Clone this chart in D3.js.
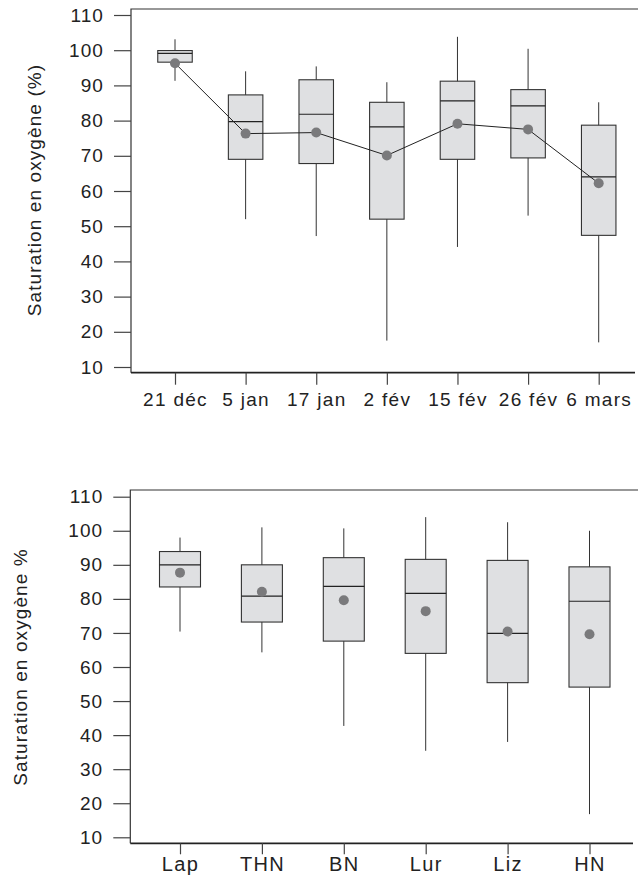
<!DOCTYPE html>
<html>
<head>
<meta charset="utf-8">
<script src="https://cdn.jsdelivr.net/npm/d3@7"></script>
<style>
	body { margin: 0; background: #fff; }
	svg text { font-family: "Liberation Sans", Arial, sans-serif; fill: #222; }
</style>
</head>
<body>
<div id="chart"></div>
<script>
// top panel: sampling dates
const dates = ["21 déc", "5 jan", "17 jan", "2 fév", "15 fév", "26 fév", "6 mars"];
const dateMin = [91.3, 52.0, 47.2, 17.5, 44.1, 53.0, 17.0];
const dateQ1 = [96.6, 69.0, 67.8, 52.0, 69.0, 69.4, 47.4];
const dateMedian = [99.1, 79.7, 81.8, 78.2, 85.6, 84.2, 64.0];
const dateQ3 = [99.9, 87.3, 91.6, 85.2, 91.2, 88.8, 78.7];
const dateMax = [103.1, 94.0, 95.4, 90.9, 103.8, 100.4, 85.2];
const dateMean = [96.3, 76.3, 76.6, 70.1, 79.1, 77.5, 62.2];

// bottom panel: sites
const sites = ["Lap", "THN", "BN", "Lur", "Liz", "HN"];
const siteMin = [70.4, 64.3, 42.7, 35.4, 38.0, 16.8];
const siteQ1 = [83.5, 73.2, 67.6, 64.0, 55.4, 54.1];
const siteMedian = [90.0, 80.8, 83.7, 81.6, 69.9, 79.3];
const siteQ3 = [93.9, 90.0, 92.1, 91.6, 91.3, 89.4];
const siteMax = [98.0, 101.0, 100.7, 104.0, 102.5, 100.0];
const siteMean = [87.7, 82.1, 79.6, 76.4, 70.4, 69.6];

const yTicks = [10, 20, 30, 40, 50, 60, 70, 80, 90, 100, 110];

const width = 638;
const height = 877;

const svg = d3.select("#chart")
	.append("svg")
	.attr("width", width)
	.attr("height", height);

function drawPanel(opts) {
	const rows = opts.cats.map((c, i) => ({
		cat: c, min: opts.min[i], q1: opts.q1[i], med: opts.med[i],
		q3: opts.q3[i], max: opts.max[i], mean: opts.mean[i]
	}));

	const x = d3.scalePoint().domain(opts.cats).range(opts.xRange);
	const y = d3.scaleLinear().domain([10, 110]).range(opts.yRange);

	const g = svg.append("g");

	// frame: left and top, the bottom line is the x axis
	g.append("path")
		.attr("d", `M${opts.left},${opts.axisY}V${opts.top}H${width}`)
		.attr("fill", "none")
		.attr("stroke", "#333")
		.attr("stroke-width", 1.2);

	const yAxis = d3.axisLeft(y).tickValues(yTicks).tickSize(17).tickPadding(10).tickSizeOuter(0);
	const ya = g.append("g")
		.attr("transform", `translate(${opts.left},0)`)
		.call(yAxis);
	ya.select(".domain").remove();
	ya.selectAll(".tick line").attr("stroke", "#444").attr("stroke-width", 1.2);
	ya.selectAll(".tick text")
		.attr("font-size", 19)
		.attr("letter-spacing", "1.1px")
		.attr("fill", "#222");

	const xAxis = d3.axisBottom(x).tickSize(opts.xTick).tickPadding(opts.xPad).tickSizeOuter(0);
	const xa = g.append("g")
		.attr("transform", `translate(0,${opts.axisY})`)
		.call(xAxis);
	xa.select(".domain")
		.attr("d", `M${opts.left},0H${opts.axisEnd}`)
		.attr("stroke", "#222")
		.attr("stroke-width", 1.8);
	xa.selectAll(".tick line").attr("stroke", "#444").attr("stroke-width", 1.2);
	xa.selectAll(".tick text")
		.attr("font-size", opts.xFont)
		.attr("letter-spacing", "1.3px")
		.attr("fill", "#222");

	g.append("text")
		.attr("transform", `translate(${opts.titleX},${opts.titleY}) rotate(-90)`)
		.attr("text-anchor", "middle")
		.attr("font-size", 19)
		.attr("letter-spacing", "1.1px")
		.text(opts.title);

	const half = opts.boxW / 2;
	const box = g.selectAll("g.box")
		.data(rows)
		.join("g")
		.attr("class", "box");

	box.append("line")
		.attr("x1", d => x(d.cat)).attr("x2", d => x(d.cat))
		.attr("y1", d => y(d.max)).attr("y2", d => y(d.min))
		.attr("stroke", "#333").attr("stroke-width", 1);

	box.append("rect")
		.attr("x", d => x(d.cat) - half)
		.attr("width", opts.boxW)
		.attr("y", d => y(d.q3))
		.attr("height", d => y(d.q1) - y(d.q3))
		.attr("fill", "#dfe0e2")
		.attr("stroke", "#333")
		.attr("stroke-width", 1.1);

	box.append("line")
		.attr("x1", d => x(d.cat) - half).attr("x2", d => x(d.cat) + half)
		.attr("y1", d => y(d.med)).attr("y2", d => y(d.med))
		.attr("stroke", "#222").attr("stroke-width", 1.2);

	if (opts.meanLine) {
		g.append("path")
			.datum(rows)
			.attr("fill", "none")
			.attr("stroke", "#222")
			.attr("stroke-width", 1)
			.attr("d", d3.line().x(d => x(d.cat)).y(d => y(d.mean)));
	}

	g.selectAll("circle.mean")
		.data(rows)
		.join("circle")
		.attr("class", "mean")
		.attr("cx", d => x(d.cat))
		.attr("cy", d => y(d.mean))
		.attr("r", 5)
		.attr("fill", "#7a7a7c");
}

drawPanel({
	cats: dates, min: dateMin, q1: dateQ1, med: dateMedian, q3: dateQ3, max: dateMax, mean: dateMean,
	xRange: [175, 598.7], yRange: [367, 15],
	left: 131, top: 9, axisY: 372.7, axisEnd: 635,
	xTick: 12, xPad: 7.5, xFont: 19,
	boxW: 34.5, meanLine: true,
	title: "Saturation en oxygène (%)", titleX: 41, titleY: 190
});

drawPanel({
	cats: sites, min: siteMin, q1: siteQ1, med: siteMedian, q3: siteQ3, max: siteMax, mean: siteMean,
	xRange: [180, 589.5], yRange: [837.3, 496.7],
	left: 130.3, top: 490, axisY: 843.3, axisEnd: 633,
	xTick: 11, xPad: 2.5, xFont: 20,
	boxW: 41, meanLine: false,
	title: "Saturation en oxygène %", titleX: 27, titleY: 667
});
</script>
</body>
</html>
